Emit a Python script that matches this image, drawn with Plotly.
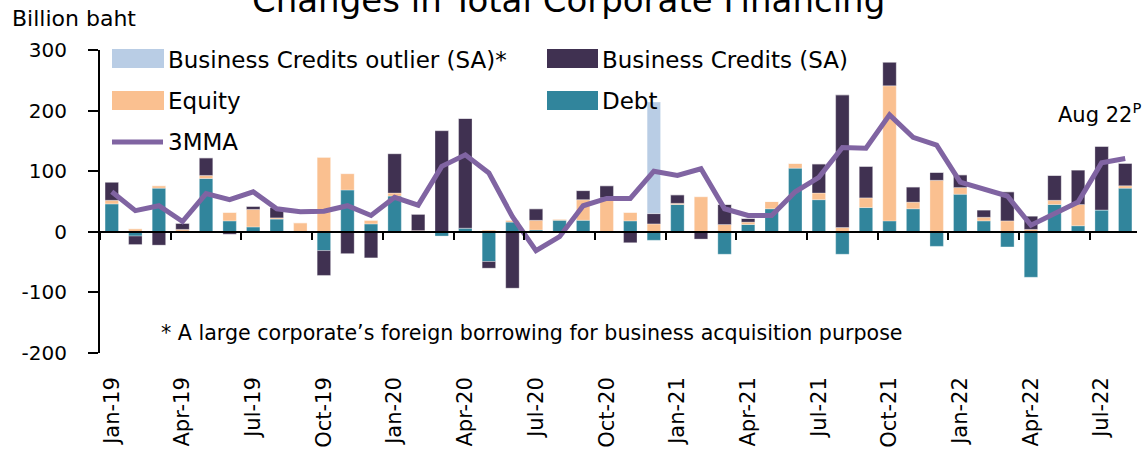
import plotly.graph_objects as go

months = ["Jan-19","Feb-19","Mar-19","Apr-19","May-19","Jun-19","Jul-19","Aug-19","Sep-19","Oct-19","Nov-19","Dec-19",
          "Jan-20","Feb-20","Mar-20","Apr-20","May-20","Jun-20","Jul-20","Aug-20","Sep-20","Oct-20","Nov-20","Dec-20",
          "Jan-21","Feb-21","Mar-21","Apr-21","May-21","Jun-21","Jul-21","Aug-21","Sep-21","Oct-21","Nov-21","Dec-21",
          "Jan-22","Feb-22","Mar-22","Apr-22","May-22","Jun-22","Jul-22","Aug-22"]

debt = [46, -7, 72, 1, 88, 18, 8, 21, 0, -31, 69, 13,
        59, 0, -7, 6, -49, 16, 3, 19, 19, 0, 18, -14,
        45, 0, -37, 12, 38, 105, 53, -37, 40, 18, 38, -24,
        62, 18, -25, -75, 45, 10, 36, 72]
equity = [6, 5, 4, 3, 5, 14, 29, 2, 15, 123, 27, 6,
          5, 2, 0, 0, 3, 3, 16, 2, 34, 56, 14, 13,
          2, 58, 12, 4, 12, 8, 11, 7, 16, 223, 11, 85,
          11, 6, 18, 4, 7, 35, 0, 4]
business_credits = [30, -14, -22, 10, 29, -4, 5, 17, 0, -41, -36, -43,
                    65, 27, 167, 181, -11, -93, 19, 0, 15, 20, -18, 17,
                    14, -12, 33, 6, 0, 0, 48, 219, 52, 39, 25, 13,
                    21, 12, 48, 22, 41, 57, 105, 37]
outlier = [0]*23 + [184] + [0]*20
mma3 = [66, 35, 43, 17, 63, 53, 66, 38, 33, 34, 43, 27,
        57, 44, 108, 127, 97, 25, -31, -8, 43, 55, 55, 100,
        93, 104, 38, 27, 27, 66, 90, 139, 138, 193, 156, 143,
        82, 70, 59, 11, 30, 49, 114, 121]

tick_months = months[::3]
boundary_ticks = [i - 0.5 for i in range(0, 45, 3)]
y_tickvals = [-200, -100, 0, 100, 200, 300]
y_ticktext = ["-200", "-100", "0", "100", "200", "300"]

C_DEBT = "#31859C"
C_EQ = "#FAC090"
C_BC = "#403151"
C_OUT = "#B9CDE5"
C_MMA = "#8064A2"
FONT = "DejaVu Sans"

fig = go.Figure()
for name, vals, col in [("Debt", debt, C_DEBT), ("Equity", equity, C_EQ),
                        ("Business Credits (SA)", business_credits, C_BC),
                        ("Business Credits outlier (SA)*", outlier, C_OUT)]:
    fig.add_trace(go.Bar(x=months, y=vals, name=name,
                         marker=dict(color=col, line=dict(color="rgba(255,255,255,0.6)", width=0.5)),
                         showlegend=False))
fig.add_trace(go.Scatter(x=months, y=mma3, name="3MMA", mode="lines",
                         line=dict(color=C_MMA, width=5), showlegend=False))
# helper trace for the zero-line axis with boundary ticks
fig.add_trace(go.Scatter(x=[-0.5, 43.5], y=[0, 0], xaxis="x2", yaxis="y", mode="lines",
                         line=dict(width=0), opacity=0, hoverinfo="skip", showlegend=False))

W, H = 1148, 455
L, R, T, B = 100, 11, 50, 102
pw, ph = W - L - R, H - T - B

def px(x):
    return (x - L) / pw

def py(y):
    return (H - B - y) / ph

shapes = []
ann = []
def swatch(x0, x1, y0, y1, col):
    shapes.append(dict(type="rect", xref="paper", yref="paper", x0=px(x0), x1=px(x1), y0=py(y1), y1=py(y0),
                       fillcolor=col, line=dict(width=0)))

def label(x, y, text, size=23, xanchor="left"):
    ann.append(dict(xref="paper", yref="paper", x=px(x), y=py(y), text=text, showarrow=False,
                    xanchor=xanchor, yanchor="middle", font=dict(family=FONT, size=size, color="black")))

swatch(112, 164, 49, 68, C_OUT)
label(166, 60, "Business Credits outlier (SA)*")
swatch(547, 598, 49, 68, C_BC)
label(600, 60, "Business Credits (SA)")
swatch(112, 164, 91, 110, C_EQ)
label(166, 101, "Equity")
swatch(547, 598, 91, 110, C_DEBT)
label(600, 101, "Debt")
shapes.append(dict(type="line", xref="paper", yref="paper", x0=px(112), x1=px(163), y0=py(142), y1=py(142),
                   line=dict(color=C_MMA, width=5)))
label(166, 142, "3MMA")

label(10, 18, "Billion baht", size=22)
label(159, 333, "* A large corporate\u2019s foreign borrowing for business acquisition purpose", size=20.6)
label(1099, 113, "Aug 22<sup>P</sup>", size=21, xanchor="center")
ann.append(dict(xref="paper", yref="paper", x=px(568), y=py(0), text="Changes in Total Corporate Financing",
                showarrow=False, xanchor="center", yanchor="middle",
                font=dict(family=FONT, size=34, color="black")))

fig.update_layout(
    width=W, height=H, margin=dict(l=L, r=R, t=T, b=B, autoexpand=False),
    barmode="relative", bargap=0.43,
    plot_bgcolor="white", paper_bgcolor="white",
    font=dict(family=FONT, size=21, color="black"),
    shapes=shapes, annotations=ann,
    xaxis=dict(type="category", range=[-0.5, 43.5], tickmode="array", tickvals=tick_months, ticktext=tick_months,
               tickangle=-90, ticks="", showline=False, showgrid=False, zeroline=False, automargin=False,
               tickfont=dict(family=FONT, size=21, color="black"), ticklabelstandoff=19),
    xaxis2=dict(type="linear", overlaying="x", anchor="free", position=0.4, side="bottom",
                range=[-0.5, 43.5], tickmode="array", tickvals=boundary_ticks, ticks="outside", ticklen=7,
                tickwidth=2, tickcolor="black", showticklabels=False, showline=True, linecolor="black",
                linewidth=2, showgrid=False, zeroline=False, automargin=False),
    yaxis=dict(range=[-200, 300], tickmode="array", tickvals=y_tickvals, ticktext=y_ticktext,
               ticks="outside", ticklen=10, tickwidth=2, tickcolor="black", automargin=False,
               showline=True, linecolor="black", linewidth=2, showgrid=False, zeroline=False,
               tickfont=dict(family=FONT, size=20, color="black"), ticklabelstandoff=17),
)

fig.write_html("out.html", config={"displayModeBar": False},
               post_script="document.body.style.margin='0';document.body.style.overflow='hidden';")
